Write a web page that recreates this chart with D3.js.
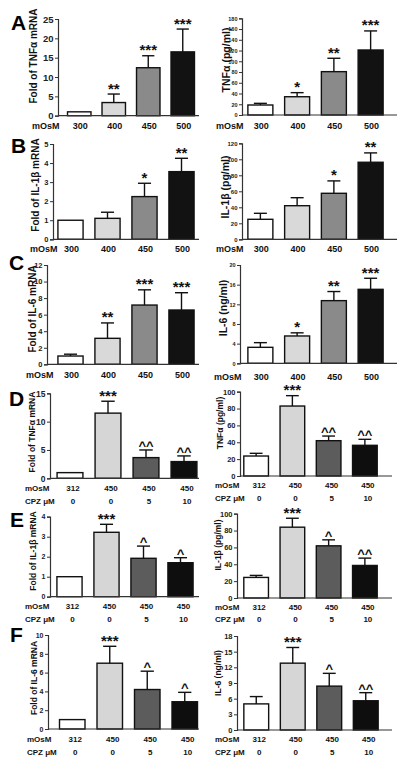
<!DOCTYPE html>
<html><head><meta charset="utf-8">
<script src="https://cdn.jsdelivr.net/npm/d3@7"></script>
<style>
html,body{margin:0;padding:0;background:#fff;}
svg{display:block;font-family:"Liberation Sans",Arial,sans-serif;font-weight:bold;}
</style></head>
<body><svg id="c" width="400" height="771"></svg>
<script>
// ---------- DATA ----------
const osmLevels = ["300", "400", "450", "500"];
const cpzOsm = ["312", "450", "450", "450"];
const cpzDose = ["0", "0", "5", "10"];

const tnfMrnaMean = [1.0, 3.4, 12.4, 16.5];
const tnfMrnaErr  = [0, 2.2, 3.1, 5.9];
const tnfMrnaSig  = ["", "**", "***", "***"];
const tnfMrnaTicks = [0, 5, 10, 15, 20, 25];

const tnfProtMean = [18.6, 34, 80.7, 121];
const tnfProtErr  = [3.1, 7.6, 24.9, 35.5];
const tnfProtSig  = ["", "*", "**", "***"];
const tnfProtTicks = [0, 20, 40, 60, 80, 100, 120, 140, 160, 180];

const il1MrnaMean = [1.0, 1.1, 2.24, 3.55];
const il1MrnaErr  = [0, 0.32, 0.7, 0.7];
const il1MrnaSig  = ["", "", "*", "**"];
const il1MrnaTicks = [0, 1, 2, 3, 4, 5];

const il1ProtMean = [25, 42, 57.5, 96.3];
const il1ProtErr  = [7.5, 10, 15.5, 11.7];
const il1ProtSig  = ["", "", "*", "**"];
const il1ProtTicks = [0, 20, 40, 60, 80, 100, 120];

const il6MrnaMean = [1.0, 3.14, 7.16, 6.56];
const il6MrnaErr  = [0.22, 1.86, 1.84, 2.09];
const il6MrnaSig  = ["", "**", "***", "***"];
const il6MrnaTicks = [0, 2, 4, 6, 8, 10, 12];

const il6ProtMean = [3.25, 5.56, 12.75, 15.05];
const il6ProtErr  = [0.95, 0.64, 1.85, 2.25];
const il6ProtSig  = ["", "*", "**", "***"];
const il6ProtTicks = [0, 4, 8, 12, 16, 20];

const cpzTnfMrnaMean = [1.0, 11.5, 3.65, 2.95];
const cpzTnfMrnaErr  = [0, 2.1, 1.35, 1.0];
const cpzTnfMrnaSig  = ["", "***", "^^", "^^"];
const cpzTnfMrnaTicks = [0, 5, 10, 15];

const cpzTnfProtMean = [23.7, 83, 41.9, 36.4];
const cpzTnfProtErr  = [3.2, 12.3, 5.5, 7.1];
const cpzTnfProtSig  = ["", "***", "^^", "^^"];
const cpzTnfProtTicks = [0, 20, 40, 60, 80, 100];

const cpzIl1MrnaMean = [1.0, 3.22, 1.92, 1.7];
const cpzIl1MrnaErr  = [0, 0.4, 0.61, 0.25];
const cpzIl1MrnaSig  = ["", "***", "^", "^"];
const cpzIl1MrnaTicks = [0, 1, 2, 3, 4];

const cpzIl1ProtMean = [24.4, 84, 61.9, 38.6];
const cpzIl1ProtErr  = [2.4, 10.6, 7.1, 8.7];
const cpzIl1ProtSig  = ["", "***", "^", "^^"];
const cpzIl1ProtTicks = [0, 20, 40, 60, 80, 100];

const cpzIl6MrnaMean = [1.0, 7.0, 4.2, 2.9];
const cpzIl6MrnaErr  = [0, 1.8, 1.95, 1.0];
const cpzIl6MrnaSig  = ["", "***", "^", "^"];
const cpzIl6MrnaTicks = [0, 2, 4, 6, 8, 10];

const cpzIl6ProtMean = [5.0, 12.8, 8.4, 5.6];
const cpzIl6ProtErr  = [1.4, 3.0, 2.45, 1.55];
const cpzIl6ProtSig  = ["", "***", "^", "^^"];
const cpzIl6ProtTicks = [0, 3, 6, 9, 12, 15, 18];

const panelLetters = ["A", "B", "C", "D", "E", "F"];

// ---------- STYLE ----------
const fillsOsm = ["#ffffff", "#d9d9d9", "#8a8a8a", "#121212"];
const fillsCpz = ["#ffffff", "#d6d6d6", "#5c5c5c", "#0e0e0e"];

const svg = d3.select("#c");

const panels = [
  {mean: tnfMrnaMean, err: tnfMrnaErr, sig: tnfMrnaSig, ticks: tnfMrnaTicks, label: "Fold of TNFα mRNA",
   ax: 58, xEnd: 199, yTop: 19, yBot: 115.7, band: [62, 200], tickFs: 9.5, labX: 33, labY: 56, labFs: 10,
   cpz: false, rowY: 129, rowX: 32, rowFs: 9},
  {mean: tnfProtMean, err: tnfProtErr, sig: tnfProtSig, ticks: tnfProtTicks, label: "TNFα (pg/ml)",
   ax: 242, xEnd: 397, yTop: 18.3, yBot: 115, band: [242, 389], tickFs: 5.5, labX: 226, labY: 60, labFs: 10.5,
   cpz: false, rowY: 129, rowX: 216, rowFs: 9},
  {mean: il1MrnaMean, err: il1MrnaErr, sig: il1MrnaSig, ticks: il1MrnaTicks, label: "Fold of IL-1β mRNA",
   ax: 53, xEnd: 199, yTop: 144, yBot: 239.3, band: [52, 200], tickFs: 7.5, labX: 35, labY: 185, labFs: 10,
   cpz: false, rowY: 252, rowX: 30, rowFs: 9},
  {mean: il1ProtMean, err: il1ProtErr, sig: il1ProtSig, ticks: il1ProtTicks, label: "IL-1β (pg/ml)",
   ax: 242, xEnd: 397, yTop: 143.3, yBot: 239.3, band: [242, 389], tickFs: 6, labX: 225, labY: 187, labFs: 10.5,
   cpz: false, rowY: 252, rowX: 216, rowFs: 9},
  {mean: il6MrnaMean, err: il6MrnaErr, sig: il6MrnaSig, ticks: il6MrnaTicks, label: "Fold of IL-6 mRNA",
   ax: 47, xEnd: 199, yTop: 265, yBot: 364.3, band: [52, 200], tickFs: 7.5, labX: 32, labY: 309, labFs: 10,
   cpz: false, rowY: 377.5, rowX: 26, rowFs: 9},
  {mean: il6ProtMean, err: il6ProtErr, sig: il6ProtSig, ticks: il6ProtTicks, label: "IL-6 (ng/ml)",
   ax: 240, xEnd: 397, yTop: 265, yBot: 363.3, band: [242, 389], tickFs: 5.5, labX: 223, labY: 308, labFs: 10.5,
   cpz: false, rowY: 379.5, rowX: 214, rowFs: 9},
  {mean: cpzTnfMrnaMean, err: cpzTnfMrnaErr, sig: cpzTnfMrnaSig, ticks: cpzTnfMrnaTicks, label: "Fold of TNFα mRNA",
   ax: 50, xEnd: 199, yTop: 393.3, yBot: 478.3, band: [51, 203], tickFs: 8.5, labX: 32, labY: 432, labFs: 8.5,
   cpz: true, rowY: 490.5, rowY2: 504, rowX: 25, rowFs: 8},
  {mean: cpzTnfProtMean, err: cpzTnfProtErr, sig: cpzTnfProtSig, ticks: cpzTnfProtTicks, label: "TNFα (pg/ml)",
   ax: 240, xEnd: 392, yTop: 391.7, yBot: 476, band: [238, 383], tickFs: 7.5, labX: 220, labY: 423, labFs: 8.5,
   cpz: true, rowY: 488, rowY2: 500.5, rowX: 215, rowFs: 8},
  {mean: cpzIl1MrnaMean, err: cpzIl1MrnaErr, sig: cpzIl1MrnaSig, ticks: cpzIl1MrnaTicks, label: "Fold of IL-1β mRNA",
   ax: 50, xEnd: 199, yTop: 516.7, yBot: 596.7, band: [51, 199], tickFs: 7, labX: 33, labY: 551, labFs: 8.5,
   cpz: true, rowY: 609, rowY2: 621.5, rowX: 25, rowFs: 8},
  {mean: cpzIl1ProtMean, err: cpzIl1ProtErr, sig: cpzIl1ProtSig, ticks: cpzIl1ProtTicks, label: "IL-1β (pg/ml)",
   ax: 237, xEnd: 392, yTop: 513.7, yBot: 598, band: [238, 383], tickFs: 7.5, labX: 218, labY: 545, labFs: 8.5,
   cpz: true, rowY: 609.5, rowY2: 622, rowX: 215, rowFs: 8},
  {mean: cpzIl6MrnaMean, err: cpzIl6MrnaErr, sig: cpzIl6MrnaSig, ticks: cpzIl6MrnaTicks, label: "Fold of IL-6 mRNA",
   ax: 48, xEnd: 199, yTop: 635, yBot: 729, band: [53.5, 203.5], tickFs: 7, labX: 34, labY: 678, labFs: 8.5,
   cpz: true, rowY: 742, rowY2: 754.5, rowX: 27, rowFs: 8},
  {mean: cpzIl6ProtMean, err: cpzIl6ProtErr, sig: cpzIl6ProtSig, ticks: cpzIl6ProtTicks, label: "IL-6 (ng/ml)",
   ax: 237, xEnd: 392, yTop: 636, yBot: 730, band: [238, 384], tickFs: 7.5, labX: 218, labY: 673, labFs: 8.5,
   cpz: true, rowY: 742, rowY2: 754.5, rowX: 215, rowFs: 8}
];

panels.forEach((p, pi) => {
  const g = svg.append("g");
  const idx = d3.range(p.mean.length);
  const x = d3.scaleBand().domain(idx).range(p.band).paddingInner(0.32).paddingOuter(0.16);
  const y = d3.scaleLinear().domain([0, d3.max(p.ticks)]).range([p.yBot, p.yTop]);
  const fills = p.cpz ? fillsCpz : fillsOsm;

  // bars
  g.selectAll("rect.bar").data(idx).join("rect")
    .attr("x", i => x(i)).attr("width", x.bandwidth())
    .attr("y", i => y(p.mean[i])).attr("height", i => y(0) - y(p.mean[i]))
    .attr("fill", i => fills[i]).attr("stroke", "#111").attr("stroke-width", 1.4);

  // error bars (upper only)
  const cap = x.bandwidth() * 0.52;
  idx.filter(i => p.err[i] > 0).forEach(i => {
    const cx = x(i) + x.bandwidth() / 2;
    g.append("line").attr("x1", cx).attr("x2", cx)
      .attr("y1", y(p.mean[i])).attr("y2", y(p.mean[i] + p.err[i]))
      .attr("stroke", "#111").attr("stroke-width", 1.4);
    g.append("line").attr("x1", cx - cap / 2).attr("x2", cx + cap / 2)
      .attr("y1", y(p.mean[i] + p.err[i])).attr("y2", y(p.mean[i] + p.err[i]))
      .attr("stroke", "#111").attr("stroke-width", 1.4);
  });

  // significance marks
  g.selectAll("text.sig").data(idx.filter(i => p.sig[i])).join("text")
    .attr("x", i => x(i) + x.bandwidth() / 2)
    .attr("y", i => y(p.mean[i] + p.err[i]) - (p.sig[i][0] === "^" ? 0 : 0.5))
    .attr("text-anchor", "middle")
    .attr("font-size", i => p.sig[i][0] === "^" ? 13 : 15)
    .attr("fill", "#111")
    .text(i => p.sig[i]);

  // y axis
  const yAxis = d3.axisLeft(y).tickValues(p.ticks).tickSize(3).tickPadding(1.5).tickFormat(d3.format("d"));
  const ga = g.append("g").attr("transform", `translate(${p.ax},0)`).call(yAxis);
  ga.select(".domain").attr("stroke", "#333").attr("stroke-width", 1.2);
  ga.selectAll(".tick line").attr("stroke", "#333").attr("stroke-width", 1);
  ga.selectAll(".tick text").attr("font-size", p.tickFs).attr("font-weight", "bold")
    .attr("font-family", "Liberation Sans, Arial, sans-serif").attr("fill", "#222");

  // x axis line
  g.append("line").attr("x1", p.ax).attr("x2", p.xEnd).attr("y1", y(0)).attr("y2", y(0))
    .attr("stroke", "#333").attr("stroke-width", 1.2);

  // x category rows
  const cats = p.cpz ? cpzOsm : osmLevels;
  g.append("text").attr("x", p.rowX).attr("y", p.rowY).attr("font-size", p.rowFs).attr("fill", "#111").text("mOsM");
  g.selectAll("text.cat").data(idx).join("text")
    .attr("x", i => x(i) + x.bandwidth() / 2 + (p.cpz ? 3 : 1)).attr("y", p.rowY)
    .attr("text-anchor", "middle").attr("font-size", p.rowFs).attr("fill", "#111")
    .text(i => cats[i]);
  if (p.cpz) {
    g.append("text").attr("x", p.rowX).attr("y", p.rowY2).attr("font-size", p.rowFs).attr("fill", "#111").text("CPZ μM");
    g.selectAll("text.dose").data(idx).join("text")
      .attr("x", i => x(i) + x.bandwidth() / 2 + 3).attr("y", p.rowY2)
      .attr("text-anchor", "middle").attr("font-size", p.rowFs).attr("fill", "#111")
      .text(i => cpzDose[i]);
  }

  // y label
  g.append("text").attr("transform", `translate(${p.labX},${p.labY}) rotate(-90)`)
    .attr("text-anchor", "middle").attr("dominant-baseline", "central")
    .attr("font-size", p.labFs).attr("fill", "#111").text(p.label);
});

// panel letters
const letterPos = [[11, 30], [11, 153], [9, 270], [9, 406], [10, 527], [10, 642]];
svg.selectAll("text.letter").data(panelLetters).join("text")
  .attr("x", (d, i) => letterPos[i][0]).attr("y", (d, i) => letterPos[i][1])
  .attr("font-size", 21).attr("fill", "#000").text(d => d);
</script></body></html>
